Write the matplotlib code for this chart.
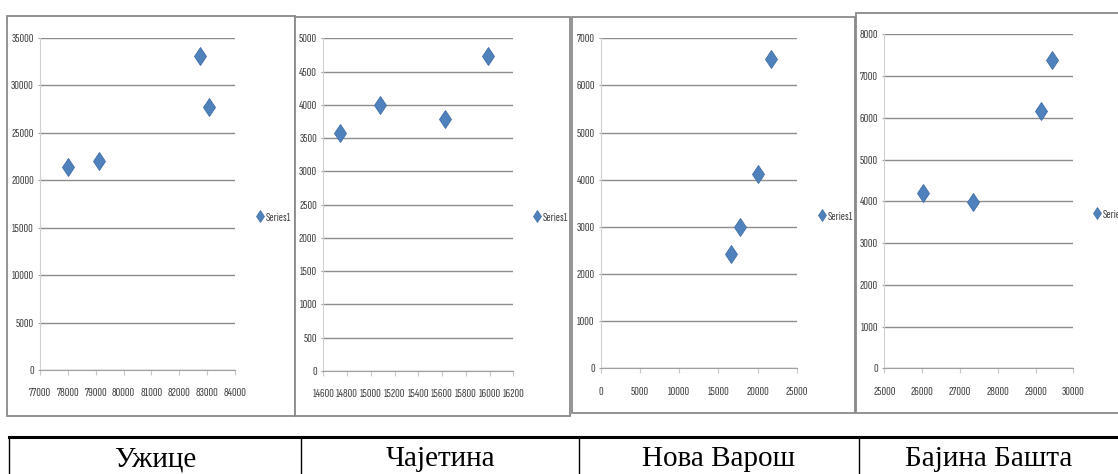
import matplotlib
matplotlib.use("Agg")
import matplotlib.pyplot as plt
from matplotlib.patches import Rectangle
from matplotlib.lines import Line2D

# Municipality data: x and y values for each panel
municipalities = ["Ужице", "Чајетина", "Нова Варош", "Бајина Башта"]

uzice_x = [78000, 79100, 82750, 83050]
uzice_y = [21400, 22000, 33050, 27750]

cajetina_x = [14740, 15080, 15625, 15990]
cajetina_y = [3570, 4000, 3790, 4735]

nova_varos_x = [16600, 17750, 20000, 21750]
nova_varos_y = [2430, 2990, 4115, 6560]

bajina_basta_x = [26020, 27340, 29150, 29440]
bajina_basta_y = [4190, 3990, 6170, 7385]

x_limits = [(77000, 84000, 1000), (14600, 16200, 200), (0, 25000, 5000), (25000, 30000, 1000)]
y_limits = [(0, 35000, 5000), (0, 5000, 500), (0, 7000, 1000), (0, 8000, 1000)]

series_label = "Series1"

W, H = 1118, 474
fig = plt.figure(figsize=(W / 100, H / 100), dpi=100)
fig.patch.set_facecolor("white")

TICK_FONT = ["Sofia Sans Extra Condensed", "DejaVu Sans"]
TICK_SIZE = 9.3
TEXT_COLOR = "#404040"
MARKER_COLOR = "#4F81BD"
GRID_COLOR = "#8c8c8c"


def px_box(x0, y0, x1, y1):
    """Convert a pixel box (top-left origin) to figure fractions."""
    return [x0 / W, 1 - y1 / H, (x1 - x0) / W, (y1 - y0) / H]


# chart frames (left, top, right, bottom) in pixels
frames = [(7, 16, 295, 416), (295, 17, 570, 416), (572, 17, 855, 413), (856, 13, 1125, 413)]
# plot areas
plot_areas = [(40, 37.7, 235, 370), (323.3, 38.3, 513.3, 371),
              (601, 38.3, 796.7, 368.3), (884.3, 34.3, 1073.3, 368.3)]
# legend anchors (x of marker, y centre)
legend_pos = [(256, 217), (533, 217), (818, 216), (1093, 214)]

datasets = [(uzice_x, uzice_y), (cajetina_x, cajetina_y),
            (nova_varos_x, nova_varos_y), (bajina_basta_x, bajina_basta_y)]

for (fx0, fy0, fx1, fy1) in frames:
    fig.add_artist(Rectangle((fx0 / W, 1 - fy1 / H), (fx1 - fx0) / W, (fy1 - fy0) / H,
                             transform=fig.transFigure, facecolor="white",
                             edgecolor="#8a8a8a", linewidth=1.3, zorder=-5))

for i, ((xs, ys), area, (xmin, xmax, xstep), (ymin, ymax, ystep), lp) in enumerate(
        zip(datasets, plot_areas, x_limits, y_limits, legend_pos)):
    ax = fig.add_axes(px_box(*area), zorder=2)
    ax.set_facecolor("none")
    ax.set_xlim(xmin, xmax)
    ax.set_ylim(ymin, ymax)
    ax.set_xticks(list(range(xmin, xmax + 1, xstep)))
    ax.set_yticks(list(range(ymin, ymax + 1, ystep)))
    ax.grid(axis="y", color=GRID_COLOR, linewidth=1.0)
    ax.set_axisbelow(True)
    for side in ("top", "right"):
        ax.spines[side].set_visible(False)
    ax.spines["left"].set_color("#d0d0d0")
    ax.spines["bottom"].set_color("#a0a0a0")
    ax.tick_params(axis="x", length=3.3, width=0.8, color="#c8c8c8", pad=10,
                   labelsize=TICK_SIZE, labelcolor=TEXT_COLOR)
    ax.tick_params(axis="y", length=1.5, width=0.8, color="#a0a0a0", pad=3,
                   labelsize=TICK_SIZE, labelcolor=TEXT_COLOR)
    for lab in ax.get_xticklabels() + ax.get_yticklabels():
        lab.set_family(TICK_FONT)
    ax.plot(xs, ys, linestyle="none", marker="d", markersize=9.5,
            markerfacecolor=MARKER_COLOR, markeredgecolor="#3f6fa8",
            markeredgewidth=0.6, clip_on=False, zorder=3)
    handle = Line2D([], [], linestyle="none", marker="d", markersize=6,
                    markerfacecolor=MARKER_COLOR, markeredgecolor="#3f6fa8",
                    markeredgewidth=0.5)
    leg = fig.legend([handle], [series_label], loc="center left",
                     bbox_to_anchor=(lp[0] / W, 1 - lp[1] / H),
                     frameon=False, handlelength=0.6, handletextpad=0.15,
                     borderpad=0, borderaxespad=0,
                     prop={"family": TICK_FONT, "size": TICK_SIZE})
    for t in leg.get_texts():
        t.set_color(TEXT_COLOR)

# name table under the charts
table_top = 437
table_cols = [9, 301, 579, 859, 1118]
fig.add_artist(Line2D([table_cols[0] / W, 1], [1 - table_top / H] * 2,
                      transform=fig.transFigure, color="black", linewidth=2.2))
for cx in table_cols[:-1]:
    fig.add_artist(Line2D([cx / W, cx / W], [1 - table_top / H, 0],
                          transform=fig.transFigure, color="black", linewidth=1.0))
for name, c0, c1 in zip(municipalities, table_cols[:-1], table_cols[1:]):
    fig.text((c0 + c1) / 2 / W, 1 - 466 / H, name, ha="center", va="baseline",
             family=["Liberation Serif", "DejaVu Serif"], fontsize=21, color="black")

fig.savefig("out.png", dpi=100, facecolor="white")
